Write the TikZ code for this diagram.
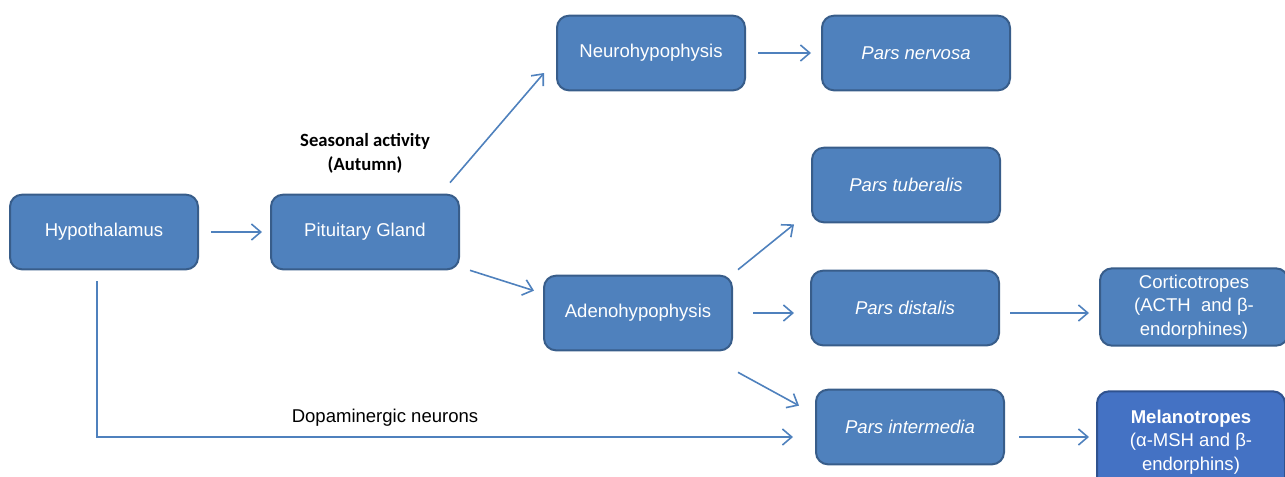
\documentclass[tikz,border=0pt]{standalone}
\usepackage{fontspec}
\setmainfont{Liberation Sans}
\newfontfamily\calibri{Carlito}
\usetikzlibrary{arrows.meta}

\definecolor{boxfill}{HTML}{4F81BD}
\definecolor{boxline}{HTML}{385D8A}
\definecolor{melfill}{HTML}{4472C4}
\definecolor{melline}{HTML}{2F528F}

\begin{document}
\begin{tikzpicture}[x=0.75pt,y=-0.75pt,
  box/.style={draw=boxline,fill=boxfill,line width=1.5pt,rounded corners=9pt,
    minimum width=141pt,minimum height=56pt,text=white,align=center,
    font=\fontsize{13.9}{17.8}\selectfont},
  arr/.style={draw=boxfill,line width=1.2pt,-{Straight Barb[length=7pt,width=12pt]}}]
  \clip (0,0) rectangle (1285,476);

  \node[box] (hypo) at (104,232) {Hypothalamus};
  \node[box] (pit) at (365,232) {Pituitary Gland};
  \node[box] (neuro) at (651,53) {Neurohypophysis};
  \node[box] (nervosa) at (916,53) {\itshape Pars nervosa};
  \node[box] (tuber) at (906,185) {\itshape Pars tuberalis};
  \node[box] (adeno) at (638,313) {Adenohypophysis};
  \node[box] (distalis) at (905,308) {\itshape Pars distalis};
  \node[box,minimum height=58pt] (cortico) at (1194,307) {Corticotropes\\(ACTH\ \ and β-\\endorphines)};
  \node[box] (inter) at (910,427) {\itshape Pars intermedia};
  \node[box,fill=melfill,draw=melline,minimum height=76pt] (melano) at (1191,442)
    {\textbf{Melanotropes}\\(α-MSH and β-\\endorphins)};

  % labels
  \node[align=center,font=\calibri\bfseries\fontsize{14}{18}\selectfont] (season) at (365,153)
    {Seasonal activity\\(Autumn)};
  \node[font=\fontsize{13.9}{16}\selectfont] (dopa) at (385,418) {Dopaminergic neurons};

  % arrows
  \draw[arr] ([shift={(12,0)}]hypo.east) -- ([shift={(-8,0)}]pit.west);
  \draw[arr] ([shift={(-10,-11)}]pit.north east) -- ([shift={(-12,20)}]neuro.west);
  \draw[arr] ([shift={(10,0)}]pit.south east) -- ([shift={(-9,16)}]adeno.north west);
  \draw[arr] ([shift={(12,0)}]neuro.east) -- ([shift={(-10,0)}]nervosa.west);
  \draw[arr] ([shift={(5,-5)}]adeno.north east) -- ([shift={(-17,1)}]tuber.south west);
  \draw[arr] ([shift={(20,0)}]adeno.east) -- ([shift={(-16,5)}]distalis.west);
  \draw[arr] ([shift={(5,21)}]adeno.south east) -- ([shift={(-16,17)}]inter.north west);
  \draw[arr] ([shift={(10,5)}]distalis.east) -- ([shift={(-10,6)}]cortico.west);
  \draw[arr] ([shift={(14,10)}]inter.east) -- ([shift={(-7,-5)}]melano.west);
  \draw[arr] ([shift={(-7,11)}]hypo.south) |- ([shift={(-22,10)}]inter.west);
\end{tikzpicture}
\end{document}
